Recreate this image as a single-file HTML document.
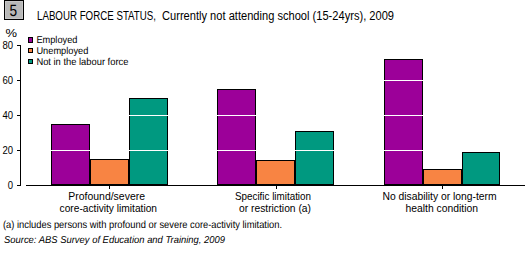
<!DOCTYPE html><html><head><meta charset="utf-8"><style>html,body{margin:0;padding:0;background:#fff;width:529px;height:253px;overflow:hidden}svg{display:block}text{font-family:"Liberation Sans",sans-serif;fill:#000;text-rendering:geometricPrecision}text.h{text-rendering:auto}</style></head><body>
<svg width="529" height="253" viewBox="0 0 529 253" shape-rendering="crispEdges">
<rect x="4" y="0" width="20" height="20" fill="#000"/>
<rect x="5" y="1" width="18" height="18" fill="#c6c6c6"/>
<rect x="6" y="2" width="16" height="16" fill="#b8b8b8"/>
<text x="9.6" y="16" font-size="16.2" textLength="7.6" lengthAdjust="spacingAndGlyphs">5</text>
<text x="37" y="20" font-size="12" textLength="119" lengthAdjust="spacingAndGlyphs" class="h">LABOUR FORCE STATUS,</text>
<text x="162" y="20" font-size="12" textLength="232" lengthAdjust="spacingAndGlyphs" class="h">Currently not attending school (15-24yrs), 2009</text>
<text x="5.5" y="37" font-size="11" textLength="11.5" lengthAdjust="spacingAndGlyphs" class="h">%</text>
<text x="2.4000000000000004" y="49" font-size="11" textLength="10.6" lengthAdjust="spacingAndGlyphs" class="h">80</text>
<rect x="17" y="45" width="4" height="1" fill="#000"/>
<text x="2.4000000000000004" y="84" font-size="11" textLength="10.6" lengthAdjust="spacingAndGlyphs" class="h">60</text>
<rect x="17" y="80" width="4" height="1" fill="#000"/>
<text x="2.4000000000000004" y="119" font-size="11" textLength="10.6" lengthAdjust="spacingAndGlyphs" class="h">40</text>
<rect x="17" y="115" width="4" height="1" fill="#000"/>
<text x="2.4000000000000004" y="154" font-size="11" textLength="10.6" lengthAdjust="spacingAndGlyphs" class="h">20</text>
<rect x="17" y="150" width="4" height="1" fill="#000"/>
<text x="7.7" y="189" font-size="11" textLength="5.3" lengthAdjust="spacingAndGlyphs" class="h">0</text>
<rect x="17" y="185" width="4" height="1" fill="#000"/>
<rect x="20" y="45" width="1" height="141" fill="#000"/>
<rect x="51" y="124" width="39" height="61" fill="#000"/>
<rect x="52" y="125" width="37" height="59" fill="#9c0099"/>
<rect x="90" y="159" width="39" height="26" fill="#000"/>
<rect x="91" y="160" width="37" height="24" fill="#f88443"/>
<rect x="129" y="98" width="39" height="87" fill="#000"/>
<rect x="130" y="99" width="37" height="85" fill="#009980"/>
<rect x="217" y="89" width="39" height="96" fill="#000"/>
<rect x="218" y="90" width="37" height="94" fill="#9c0099"/>
<rect x="256" y="160" width="39" height="25" fill="#000"/>
<rect x="257" y="161" width="37" height="23" fill="#f88443"/>
<rect x="295" y="131" width="39" height="54" fill="#000"/>
<rect x="296" y="132" width="37" height="52" fill="#009980"/>
<rect x="384" y="59" width="39" height="126" fill="#000"/>
<rect x="385" y="60" width="37" height="124" fill="#9c0099"/>
<rect x="423" y="169" width="39" height="16" fill="#000"/>
<rect x="424" y="170" width="37" height="14" fill="#f88443"/>
<rect x="462" y="152" width="38" height="33" fill="#000"/>
<rect x="463" y="153" width="36" height="31" fill="#009980"/>
<rect x="26" y="150" width="499" height="1" fill="#fff"/>
<rect x="26" y="115" width="499" height="1" fill="#fff"/>
<rect x="26" y="80" width="499" height="1" fill="#fff"/>
<rect x="26" y="185" width="499" height="1" fill="#000"/>
<rect x="109" y="185" width="1" height="4" fill="#000"/>
<rect x="276" y="185" width="1" height="4" fill="#000"/>
<rect x="442" y="185" width="1" height="4" fill="#000"/>
<rect x="28" y="37" width="5" height="6" fill="#000"/>
<rect x="29" y="38" width="3" height="4" fill="#9c0099"/>
<text x="36.4" y="43" font-size="10" textLength="41" lengthAdjust="spacingAndGlyphs">Employed</text>
<rect x="28" y="48" width="5" height="5" fill="#000"/>
<rect x="29" y="49" width="3" height="3" fill="#f88443"/>
<text x="36.4" y="54" font-size="10" textLength="52" lengthAdjust="spacingAndGlyphs">Unemployed</text>
<rect x="28" y="59" width="5" height="5" fill="#000"/>
<rect x="29" y="60" width="3" height="3" fill="#009980"/>
<text x="36.4" y="65" font-size="10" textLength="92" lengthAdjust="spacingAndGlyphs">Not in the labour force</text>
<text x="68.3" y="200" font-size="11" textLength="76.7" lengthAdjust="spacingAndGlyphs" class="h">Profound/severe</text>
<text x="59.6" y="212" font-size="11" textLength="97.4" lengthAdjust="spacingAndGlyphs" class="h">core-activity limitation</text>
<text x="235" y="200" font-size="11" textLength="76" lengthAdjust="spacingAndGlyphs" class="h">Specific limitation</text>
<text x="239" y="212" font-size="11" textLength="72" lengthAdjust="spacingAndGlyphs" class="h">or restriction (a)</text>
<text x="382.5" y="200" font-size="11" textLength="114.0" lengthAdjust="spacingAndGlyphs" class="h">No disability or long-term</text>
<text x="405.5" y="212" font-size="11" textLength="72.5" lengthAdjust="spacingAndGlyphs" class="h">health condition</text>
<text x="3" y="227.9" font-size="10.4" textLength="279" lengthAdjust="spacingAndGlyphs">(a) includes persons with profound or severe core-activity limitation.</text>
<text x="4" y="243" font-size="10" textLength="221" lengthAdjust="spacingAndGlyphs" font-style="italic">Source: ABS Survey of Education and Training, 2009</text>
</svg></body></html>
